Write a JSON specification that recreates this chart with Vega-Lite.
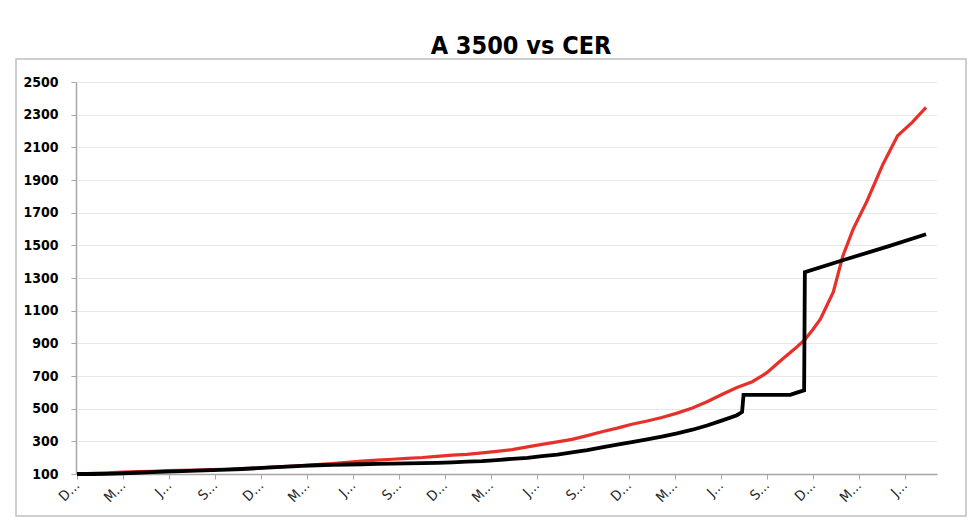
{
  "$schema": "https://vega.github.io/schema/vega-lite/v6.json",
  "width": 950,
  "height": 457,
  "autosize": {"type": "none"},
  "padding": {"left": 16, "top": 59, "right": 14, "bottom": 6},
  "background": "white",
  "title": {"text": "A 3500 vs CER", "fontSize": 25, "font": "DejaVu Sans Condensed, DejaVu Sans", "fontWeight": "bold", "color": "#000000", "anchor": "middle", "dx": 30, "offset": 0},
  "config": {"view": {"stroke": "#c0c0c0", "strokeWidth": 1.5}},
  "data": {"values": [
    {"dia": 0, "serie": "A 3500", "valor": 100},
    {"dia": 21, "serie": "A 3500", "valor": 100},
    {"dia": 41, "serie": "A 3500", "valor": 100.8},
    {"dia": 62, "serie": "A 3500", "valor": 103.8},
    {"dia": 82, "serie": "A 3500", "valor": 107.7},
    {"dia": 103, "serie": "A 3500", "valor": 111.5},
    {"dia": 123, "serie": "A 3500", "valor": 114.4},
    {"dia": 144, "serie": "A 3500", "valor": 117.7},
    {"dia": 164, "serie": "A 3500", "valor": 120.7},
    {"dia": 185, "serie": "A 3500", "valor": 123.9},
    {"dia": 206, "serie": "A 3500", "valor": 127.2},
    {"dia": 226, "serie": "A 3500", "valor": 130.7},
    {"dia": 247, "serie": "A 3500", "valor": 135.7},
    {"dia": 267, "serie": "A 3500", "valor": 140.4},
    {"dia": 288, "serie": "A 3500", "valor": 145.7},
    {"dia": 308, "serie": "A 3500", "valor": 149.9},
    {"dia": 329, "serie": "A 3500", "valor": 153.6},
    {"dia": 349, "serie": "A 3500", "valor": 156.3},
    {"dia": 370, "serie": "A 3500", "valor": 158.3},
    {"dia": 390, "serie": "A 3500", "valor": 159.8},
    {"dia": 411, "serie": "A 3500", "valor": 161.4},
    {"dia": 432, "serie": "A 3500", "valor": 163.1},
    {"dia": 452, "serie": "A 3500", "valor": 164.8},
    {"dia": 473, "serie": "A 3500", "valor": 166.4},
    {"dia": 493, "serie": "A 3500", "valor": 168.4},
    {"dia": 514, "serie": "A 3500", "valor": 171.5},
    {"dia": 534, "serie": "A 3500", "valor": 175.3},
    {"dia": 555, "serie": "A 3500", "valor": 178.6},
    {"dia": 575, "serie": "A 3500", "valor": 185.1},
    {"dia": 596, "serie": "A 3500", "valor": 192.8},
    {"dia": 617, "serie": "A 3500", "valor": 198.7},
    {"dia": 637, "serie": "A 3500", "valor": 209},
    {"dia": 658, "serie": "A 3500", "valor": 219},
    {"dia": 678, "serie": "A 3500", "valor": 231.9},
    {"dia": 699, "serie": "A 3500", "valor": 245.9},
    {"dia": 719, "serie": "A 3500", "valor": 262.3},
    {"dia": 740, "serie": "A 3500", "valor": 279.3},
    {"dia": 760, "serie": "A 3500", "valor": 295.7},
    {"dia": 781, "serie": "A 3500", "valor": 312.4},
    {"dia": 801, "serie": "A 3500", "valor": 329},
    {"dia": 822, "serie": "A 3500", "valor": 348.9},
    {"dia": 843, "serie": "A 3500", "valor": 371.1},
    {"dia": 863, "serie": "A 3500", "valor": 397.2},
    {"dia": 884, "serie": "A 3500", "valor": 428.5},
    {"dia": 904, "serie": "A 3500", "valor": 459.9},
    {"dia": 911, "serie": "A 3500", "valor": 479.6},
    {"dia": 913, "serie": "A 3500", "valor": 584.3},
    {"dia": 945, "serie": "A 3500", "valor": 584.3},
    {"dia": 977, "serie": "A 3500", "valor": 584.3},
    {"dia": 986, "serie": "A 3500", "valor": 598},
    {"dia": 996, "serie": "A 3500", "valor": 611.9},
    {"dia": 997, "serie": "A 3500", "valor": 1335.6},
    {"dia": 1050, "serie": "A 3500", "valor": 1410},
    {"dia": 1110, "serie": "A 3500", "valor": 1492},
    {"dia": 1163, "serie": "A 3500", "valor": 1568},
    {"dia": 0, "serie": "CER", "valor": 100},
    {"dia": 21, "serie": "CER", "valor": 103.3},
    {"dia": 41, "serie": "CER", "valor": 107.7},
    {"dia": 62, "serie": "CER", "valor": 111.7},
    {"dia": 82, "serie": "CER", "valor": 114.3},
    {"dia": 103, "serie": "CER", "valor": 116.6},
    {"dia": 123, "serie": "CER", "valor": 120.4},
    {"dia": 144, "serie": "CER", "valor": 122.2},
    {"dia": 164, "serie": "CER", "valor": 124.0},
    {"dia": 185, "serie": "CER", "valor": 126.8},
    {"dia": 206, "serie": "CER", "valor": 129.2},
    {"dia": 226, "serie": "CER", "valor": 132.7},
    {"dia": 247, "serie": "CER", "valor": 136.4},
    {"dia": 267, "serie": "CER", "valor": 141.6},
    {"dia": 288, "serie": "CER", "valor": 146.1},
    {"dia": 308, "serie": "CER", "valor": 152.0},
    {"dia": 329, "serie": "CER", "valor": 158.1},
    {"dia": 349, "serie": "CER", "valor": 163.7},
    {"dia": 370, "serie": "CER", "valor": 171.6},
    {"dia": 390, "serie": "CER", "valor": 178.6},
    {"dia": 411, "serie": "CER", "valor": 184.5},
    {"dia": 432, "serie": "CER", "valor": 190.4},
    {"dia": 452, "serie": "CER", "valor": 196.1},
    {"dia": 473, "serie": "CER", "valor": 201.0},
    {"dia": 493, "serie": "CER", "valor": 208.0},
    {"dia": 514, "serie": "CER", "valor": 215.3},
    {"dia": 534, "serie": "CER", "valor": 220.7},
    {"dia": 555, "serie": "CER", "valor": 229.1},
    {"dia": 575, "serie": "CER", "valor": 238.0},
    {"dia": 596, "serie": "CER", "valor": 249.2},
    {"dia": 617, "serie": "CER", "valor": 265.9},
    {"dia": 637, "serie": "CER", "valor": 281.8},
    {"dia": 658, "serie": "CER", "valor": 296.2},
    {"dia": 678, "serie": "CER", "valor": 311.9},
    {"dia": 699, "serie": "CER", "valor": 335.0},
    {"dia": 719, "serie": "CER", "valor": 358.4},
    {"dia": 740, "serie": "CER", "valor": 380.6},
    {"dia": 760, "serie": "CER", "valor": 404.6},
    {"dia": 781, "serie": "CER", "valor": 424.4},
    {"dia": 801, "serie": "CER", "valor": 446.1},
    {"dia": 822, "serie": "CER", "valor": 472.8},
    {"dia": 843, "serie": "CER", "valor": 504.0},
    {"dia": 863, "serie": "CER", "valor": 542.8},
    {"dia": 884, "serie": "CER", "valor": 588.4},
    {"dia": 904, "serie": "CER", "valor": 630},
    {"dia": 925, "serie": "CER", "valor": 665},
    {"dia": 945, "serie": "CER", "valor": 720},
    {"dia": 966, "serie": "CER", "valor": 803},
    {"dia": 986, "serie": "CER", "valor": 878},
    {"dia": 997, "serie": "CER", "valor": 923},
    {"dia": 1008, "serie": "CER", "valor": 985},
    {"dia": 1018, "serie": "CER", "valor": 1046},
    {"dia": 1027, "serie": "CER", "valor": 1130},
    {"dia": 1036, "serie": "CER", "valor": 1215},
    {"dia": 1049, "serie": "CER", "valor": 1434},
    {"dia": 1063, "serie": "CER", "valor": 1598},
    {"dia": 1082, "serie": "CER", "valor": 1770},
    {"dia": 1104, "serie": "CER", "valor": 1997},
    {"dia": 1124, "serie": "CER", "valor": 2171},
    {"dia": 1144, "serie": "CER", "valor": 2253},
    {"dia": 1163, "serie": "CER", "valor": 2345}
  ]},
  "encoding": {
    "x": {
      "field": "dia", "type": "quantitative",
      "scale": {"domain": [0, 1178], "range": [61, 921], "nice": false, "zero": false},
      "axis": {
        "title": null, "grid": false, "offset": -42,
        "values": [0, 63, 126, 189, 252, 315, 378, 441, 504, 567, 630, 693, 756, 819, 882, 945, 1008, 1071, 1134],
        "labelExpr": "['D…','M…','J…','S…'][round(datum.value / 63) % 4]",
        "labelAngle": -45, "labelAlign": "right", "labelBaseline": "middle",
        "labelFont": "DejaVu Sans Condensed, DejaVu Sans", "labelFontSize": 14, "labelColor": "#262626",
        "labelPadding": 4, "labelFlush": false, "labelOverlap": false,
        "tickColor": "#a6a6a6", "tickSize": 5, "tickWidth": 1,
        "domainColor": "#a6a6a6", "domainWidth": 1.5
      }
    },
    "y": {
      "field": "valor", "type": "quantitative",
      "scale": {"domain": [100, 2500], "range": [415, 23], "nice": false, "zero": false},
      "axis": {
        "title": null, "offset": -60, "format": "d",
        "values": [100, 300, 500, 700, 900, 1100, 1300, 1500, 1700, 1900, 2100, 2300, 2500],
        "labelFont": "DejaVu Sans Condensed, DejaVu Sans", "labelFontSize": 14, "labelFontWeight": "bold", "labelColor": "#000000",
        "labelPadding": 13, "labelFlush": false,
        "tickColor": "#a6a6a6", "tickSize": 5, "tickWidth": 1,
        "domainColor": "#a6a6a6", "domainWidth": 1.5,
        "gridColor": "#e8e8e8", "gridWidth": 1
      }
    }
  },
  "layer": [
    {"transform": [{"filter": "datum.serie === 'CER'"}], "mark": {"type": "line", "color": "#e8302a", "strokeWidth": 3.2}},
    {"transform": [{"filter": "datum.serie === 'A 3500'"}], "mark": {"type": "line", "color": "#000000", "strokeWidth": 3.8}}
  ]
}
